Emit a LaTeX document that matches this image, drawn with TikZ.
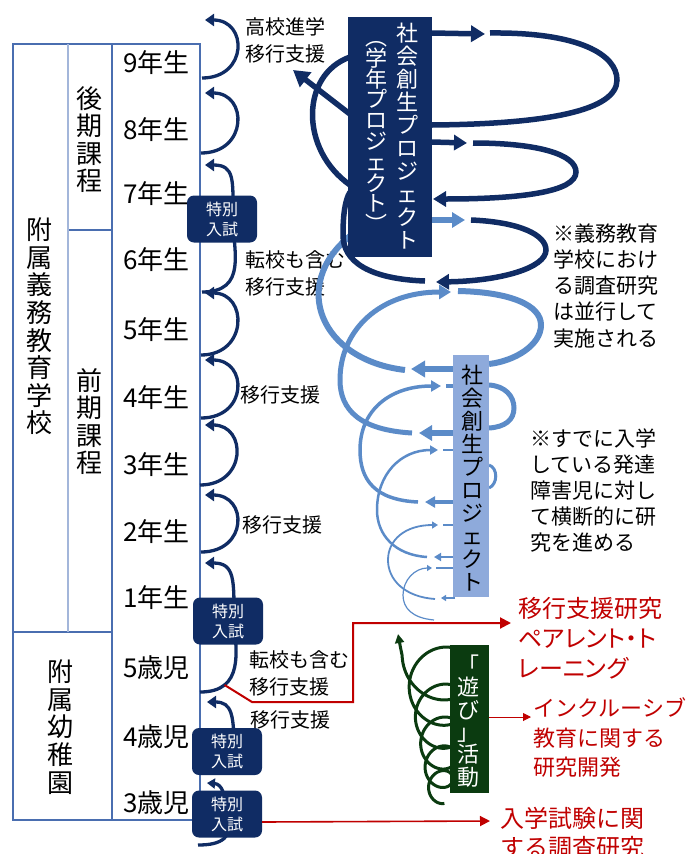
\documentclass[tikz,border=0pt]{standalone}
\usepackage{fontspec}
\setmainfont{Noto Sans CJK JP}
\newfontfamily\paltfont{Noto Sans CJK JP}[RawFeature=+palt]
\usetikzlibrary{arrows.meta}
\definecolor{navy}{HTML}{102C64}
\definecolor{framec}{HTML}{4A6EB0}
\definecolor{framel}{HTML}{A3B6DA}
\definecolor{lblue}{HTML}{5B8BC8}
\definecolor{lbox}{HTML}{8EAADB}
\definecolor{dgreen}{HTML}{0B3B10}
\definecolor{rred}{HTML}{C00000}
\begin{document}
\begin{tikzpicture}[x=1pt,y=-1pt,
  frame/.style={draw=framec,line width=1.4pt},
  framelight/.style={draw=framel,line width=1.4pt},
  vlab/.style={align=center,inner sep=0pt,font=\fontsize{26}{27.6}\selectfont},
  grade/.style={anchor=west,inner sep=0pt,font=\fontsize{26}{30}\selectfont},
  note/.style={anchor=west,align=left,inner sep=0pt,font=\fontsize{20}{27}\selectfont},
  rnote/.style={anchor=west,align=left,inner sep=0pt,text=rred,font=\fontsize{24}{30}\selectfont},
  garc/.style={draw=navy,line width=3.3pt},
  arrhd/.style 2 args={-{Triangle[length=#1,width=#2]}},
  exam/.style={fill=navy,rounded corners=7pt,minimum width=70pt,minimum height=47pt,inner sep=0pt,text=white,align=center,font=\fontsize{16}{20}\selectfont},
  darc/.style={draw=navy,line width=5.5pt},
  larc/.style={draw=lblue,line width=#1},
  redl/.style={draw=rred,line width=#1},
  coil/.style={draw=dgreen,line width=3pt},
  declare function={vv(\t)=\t/6.2832+0.5; rr(\t)=10+2.6*vv(\t)+0.45*vv(\t)^2; yy(\t)=797-17*vv(\t)-1.6*vv(\t)^2;}
]
\useasboundingbox (0,0) rectangle (689,854);

% ---- frame ----
\draw[frame] (13,44) rectangle (200,820);
\draw[frame] (112,44) -- (112,820);
\draw[frame] (13,632) -- (112,632);
\draw[frame] (68,230) -- (112,230);
\draw[framelight] (68,44) -- (68,632);

\node[vlab] (fuzoku) at (39,326.5) {附\\属\\義\\務\\教\\育\\学\\校};
\node[vlab] (kouki) at (89,139.5) {後\\期\\課\\程};
\node[vlab] (zenki) at (89,421.5) {前\\期\\課\\程};
\node[vlab] (youchi) at (60,727) {附\\属\\幼\\稚\\園};

\node[grade] (g9) at (123,63) {9年生};
\node[grade] (g8) at (123,130) {8年生};
\node[grade] (g7) at (123,194) {7年生};
\node[grade] (g6) at (123,260) {6年生};
\node[grade] (g5) at (123,330) {5年生};
\node[grade] (g4) at (123,398) {4年生};
\node[grade] (g3) at (123,465) {3年生};
\node[grade] (g2) at (123,532) {2年生};
\node[grade] (g1) at (123,598) {1年生};
\node[grade] (k5) at (123,668) {5歳児};
\node[grade] (k4) at (123,737) {4歳児};
\node[grade] (k3) at (123,803) {3歳児};

% ---- grade arcs ----
\draw[garc,arrhd={9pt}{12pt}] (202,78) .. controls (248,78) and (248,20) .. (205,20);
\draw[garc,arrhd={9pt}{12pt}] (201,153) .. controls (248,153) and (248,93) .. (205,93);
\draw[garc,arrhd={9pt}{12pt}] (202,292) .. controls (248,292) and (233,250) .. (233,219) .. controls (233,180) and (235,165) .. (205,165);
\draw[garc,arrhd={9pt}{12pt}] (201,355) .. controls (248,355) and (248,293) .. (205,293);
\draw[garc,arrhd={9pt}{12pt}] (201,418) .. controls (248,418) and (248,360) .. (205,360);
\draw[garc,arrhd={9pt}{12pt}] (200,485) .. controls (247,485) and (247,425) .. (205,425);
\draw[garc,arrhd={9pt}{12pt}] (201,552) .. controls (248,552) and (248,495) .. (205,495);
\draw[garc,arrhd={9pt}{12pt}] (200,692) .. controls (245,692) and (236,650) .. (234,621) coordinate[pos=0.25] (rs) .. controls (234,580) and (235,563) .. (205,563);
\draw[garc,arrhd={9pt}{12pt}] (234,751) .. controls (234,715) and (232,702) .. (207,702);
\draw[garc,arrhd={8pt}{10pt}] (226,814) .. controls (226,795) and (222,784) .. (207,783);
\draw[garc] (198,845) .. controls (222,845) and (232,838) .. (232,814);

% ---- side notes ----
\node[note] (n9) at (245,40) {高校進学\\移行支援};
\node[note] (n6) at (245,273.5) {転校も含む\\移行支援};
\node[note] (n4) at (240,395) {移行支援};
\node[note] (n2) at (242,525) {移行支援};
\node[note] (n5k) at (249,673.5) {転校も含む\\移行支援};
\node[note] (n4k) at (250,720) {移行支援};

% ---- red connectors ----
\coordinate (red1) at (511,623);
\draw[redl=2pt,arrhd={11pt}{11pt}] (rs) -- (252,702) -- (353,702) -- (353,623) -- (red1);

% ---- exam boxes ----
\node[exam] (b7) at (222,219) {特別\\入試};
\node[exam] (b1) at (228,621) {特別\\入試};
\node[exam] (b4) at (227,751.5) {特別\\入試};
\node[exam] (b3) at (227,814) {特別\\入試};
\coordinate (red3) at (490,821);
\draw[redl=1.6pt,arrhd={10pt}{10pt}] (b3.east) ++(0,8) -- (red3);

% ---- light blue spiral ----
\draw[larc=6pt] (405,370) .. controls (320,360) and (290,285) .. (350,236);
\draw[larc=6pt] (458,291) .. controls (510,292) and (541,305) .. (541,325) .. controls (541,345) and (515,361) .. (489,364);
\draw[larc=6pt,arrhd={14pt}{16pt}] (455,369) -- (411,369);
\draw[larc=5pt,arrhd={12pt}{14pt}] (412,433) .. controls (360,430) and (340,410) .. (340,380) .. controls (340,330) and (380,292) .. (451,292);
\draw[larc=5pt] (489,385) .. controls (505,386) and (514,396) .. (514,408) .. controls (514,420) and (505,427) .. (489,428);
\draw[larc=5.5pt,arrhd={13pt}{15pt}] (455,433) -- (419,433);
\draw[larc=3.5pt,arrhd={10pt}{11pt}] (418,502) .. controls (375,500) and (360,480) .. (360,450) .. controls (360,410) and (390,386) .. (441,386);
\draw[larc=3.5pt] (446,386) -- (455,386);
\draw[larc=3pt] (489,465) .. controls (498,468) and (498,484) .. (489,488);
\draw[larc=3.5pt,arrhd={10pt}{11pt}] (455,502) -- (425,502);
\draw[larc=2.5pt,arrhd={8pt}{9pt}] (427,557) .. controls (395,555) and (377,535) .. (377,510) .. controls (377,475) and (400,450) .. (438,450);
\draw[larc=2.5pt] (443,450) -- (455,450);
\draw[larc=2pt,arrhd={7pt}{8pt}] (455,557) -- (434,557);
\draw[larc=1.8pt,arrhd={6pt}{7pt}] (435,599) .. controls (405,597) and (388,580) .. (388,560) .. controls (388,540) and (405,525) .. (438,525);
\draw[larc=1.8pt] (443,525) -- (455,525);
\draw[larc=1.3pt,arrhd={5pt}{6pt}] (455,598) -- (441,598);
\draw[larc=1.2pt,arrhd={5pt}{6pt}] (434,620) .. controls (412,618) and (403,608) .. (403,595) .. controls (403,580) and (415,568) .. (432,568);
\draw[larc=1.2pt] (436,568) -- (455,568);

\node[fill=lbox,minimum width=36pt,minimum height=242pt,inner sep=0pt] (lbx) at (471,476) {};
\node[vlab,font=\fontsize{22}{23}\selectfont] (lt) at (472,478.5) {社\\会\\創\\生\\プ\\ロ\\ジ\\ェ\\ク\\ト};

% ---- dark spiral ----
\draw[darc,arrhd={14pt}{16pt}] (432,33) -- (485,34);
\draw[darc] (490,33) .. controls (580,32) and (617,55) .. (617,80) .. controls (617,110) and (550,124) .. (432,125);
\draw[darc,arrhd={16pt}{18pt}] (355,118) -- (293,70);
\draw[darc] (350,185) .. controls (300,150) and (300,75) .. (350,57);
\draw[darc,arrhd={13pt}{15pt}] (432,142) -- (467,143);
\draw[darc,arrhd={13pt}{15pt}] (473,143) .. controls (540,143) and (576,155) .. (576,172) .. controls (576,192) and (520,199) .. (433,199);
\draw[larc=5.5pt,arrhd={13pt}{15pt}] (432,220) -- (465,220);
\draw[darc,arrhd={13pt}{15pt}] (471,220) .. controls (520,222) and (546,235) .. (546,250) .. controls (546,268) and (500,281) .. (436,282);
\draw[darc] (425,281) .. controls (370,279) and (343,262) .. (343,235) .. controls (343,215) and (345,200) .. (350,192);

\node[fill=navy,minimum width=84pt,minimum height=240pt,inner sep=0pt] (dbox) at (390,137) {};
\node[vlab,text=white,font=\fontsize{22}{23}\selectfont] (dt1) at (407,136.5) {社\\会\\創\\生\\プ\\ロ\\ジ\\ェ\\ク\\ト};
\node[vlab,text=white,font=\fontsize{22}{20.8}\selectfont] (dt2) at (376,137) {︵\\学\\年\\プ\\ロ\\ジ\\ェ\\ク\\ト\\︶};

% ---- green coil ----
\draw[coil,arrhd={9pt}{9pt}] plot[domain=-2.0:31.416,samples=500,variable=\t,smooth] ({440-rr(\t)*cos(\t r)},{yy(\t)-rr(\t)*sin(\t r)}) .. controls (400,645) .. (398,634);
\node[fill=dgreen,minimum width=39pt,minimum height=148pt,inner sep=0pt] (gbx) at (469.5,719) {};
\node[vlab,text=white,font=\fontsize{22}{22.4}\selectfont] (gt) at (468,721) {「\\遊\\び\\」\\活\\動};
\coordinate (red2) at (531,717);
\draw[redl=1pt,arrhd={8pt}{8pt}] (gbx.east) ++(0,-2) -- (red2);

% ---- right notes ----
\node[note,font=\fontsize{21}{26.25}\selectfont] (m1) at (553,285.6) {※義務教育\\学校におけ\\る調査研究\\は並行して\\実施される};
\node[note,font=\fontsize{21}{26}\selectfont] (m2) at (530,490) {※すでに入学\\している発達\\障害児に対し\\て横断的に研\\究を進める};
\node[rnote,font=\paltfont\fontsize{24}{30}\selectfont] (r1) at (518,638.7) {移行支援研究\\ペアレント・ト\\レーニング};
\node[rnote,font=\fontsize{22}{29.5}\selectfont] (r2) at (533,737.7) {インクルーシブ\\教育に関する\\研究開発};
\node[rnote,font=\fontsize{24}{29}\selectfont] (r3) at (500,832.5) {入学試験に関\\する調査研究};
\end{tikzpicture}
\end{document}
